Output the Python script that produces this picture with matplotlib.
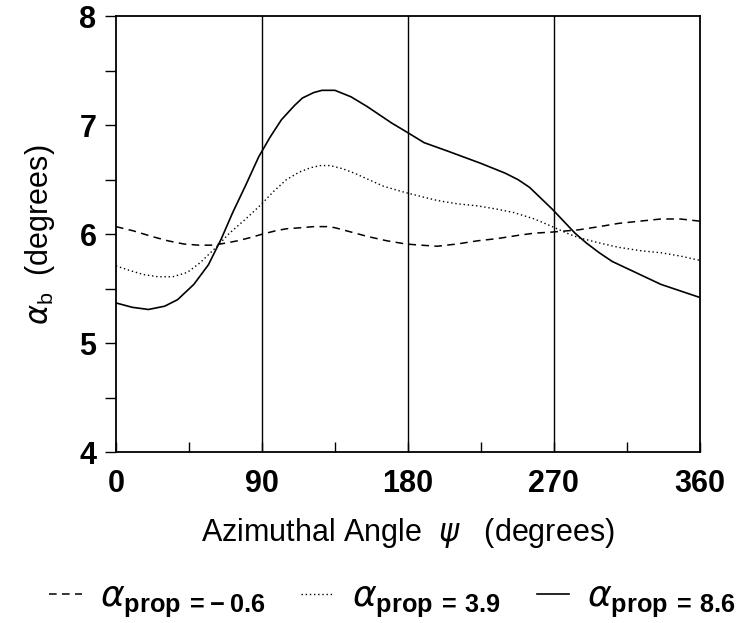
import numpy as np
import matplotlib
matplotlib.use("Agg")
import matplotlib.pyplot as plt

# -------------------------------------------------------------
# DATA
# -------------------------------------------------------------
psi_solid = [0, 10, 20, 30, 38, 48, 57, 65, 72, 80, 88, 95, 102, 110, 115, 122, 127,
             135, 145, 155, 162, 170, 179, 190, 205, 225, 240, 248, 255, 262, 269,
             276, 283, 290, 298, 306, 316, 326, 336, 348, 360]
alpha_solid = [5.37, 5.33, 5.31, 5.34, 5.40, 5.54, 5.72, 5.96, 6.20, 6.45, 6.71, 6.89,
               7.05, 7.18, 7.25, 7.30, 7.32, 7.32, 7.26, 7.17, 7.10, 7.02, 6.94, 6.84,
               6.76, 6.65, 6.56, 6.50, 6.43, 6.33, 6.23, 6.12, 6.01, 5.92, 5.83, 5.75,
               5.68, 5.61, 5.54, 5.48, 5.42]

psi_dotted = [0, 8, 17, 26, 35, 44, 52, 61, 70, 80, 88.6, 97, 105, 113, 120, 126, 132,
              140, 147, 156, 165, 179, 198, 210, 223, 235, 245, 258, 269, 278, 285,
              298, 310, 323, 336, 348, 360]
alpha_dotted = [5.71, 5.67, 5.63, 5.61, 5.61, 5.65, 5.74, 5.87, 6.01, 6.14, 6.26, 6.39,
                6.50, 6.57, 6.61, 6.63, 6.63, 6.60, 6.56, 6.50, 6.44, 6.38, 6.31, 6.28,
                6.26, 6.23, 6.20, 6.14, 6.07, 6.01, 5.97, 5.92, 5.88, 5.85, 5.83, 5.80,
                5.76]

psi_dashed = [0, 11, 22, 32, 42, 51, 60, 68, 75, 83, 90, 98, 105, 114, 122, 130, 135,
              145, 155, 167, 179, 188, 198, 210, 223, 235, 248, 258, 269, 285, 298,
              310, 323, 336, 348, 360]
alpha_dashed = [6.07, 6.03, 5.98, 5.94, 5.91, 5.90, 5.90, 5.92, 5.94, 5.97, 6.00, 6.03,
                6.05, 6.06, 6.07, 6.07, 6.06, 6.02, 5.98, 5.94, 5.91, 5.90, 5.89, 5.91,
                5.94, 5.96, 5.99, 6.01, 6.02, 6.04, 6.07, 6.10, 6.12, 6.14, 6.14, 6.12]

legend_labels = [r'$\alpha_{\mathbf{prop}\,\mathbf{=\!-0.6}}$',
                 r'$\alpha_{\mathbf{prop}\,\mathbf{=\,3.9}}$',
                 r'$\alpha_{\mathbf{prop}\,\mathbf{=\,8.6}}$']

x_major = [0, 90, 180, 270, 360]
x_minor = [45, 135, 225, 315]
grid_x = [90, 180, 270]

# -------------------------------------------------------------
# STYLE
# -------------------------------------------------------------
plt.rcParams['font.family'] = ['Liberation Sans', 'DejaVu Sans']
plt.rcParams['mathtext.fontset'] = 'custom'
plt.rcParams['mathtext.rm'] = 'Liberation Sans'
plt.rcParams['mathtext.bf'] = 'Liberation Sans:bold'
plt.rcParams['mathtext.sf'] = 'Liberation Sans'
plt.rcParams['mathtext.it'] = 'DejaVu Sans:italic'

fig = plt.figure(figsize=(7.41, 6.23), dpi=100)
ax = fig.add_axes([0.1565, 0.274, 0.788, 0.700])

l_dash, = ax.plot(psi_dashed, alpha_dashed, color='black', lw=1.1,
                  linestyle=(0, (5, 3.5)))
l_dot, = ax.plot(psi_dotted, alpha_dotted, color='black', lw=1.0,
                 linestyle=(0, (1, 2)))
l_solid, = ax.plot(psi_solid, alpha_solid, color='black', lw=1.2)

for gx in grid_x:
    ax.axvline(gx, color='black', lw=1.0)

ax.set_xlim(0, 360)
ax.set_ylim(4, 8)
for sp in ax.spines.values():
    sp.set_linewidth(1.3)

ax.set_xticks(x_major)
ax.set_xticks(x_minor, minor=True)
ax.set_yticks([4, 5, 6, 7, 8])
ax.set_yticks([4.5, 5.5, 6.5, 7.5], minor=True)
ax.tick_params(axis='x', which='both', direction='in', length=7, width=1.0,
               labelsize=22, pad=12)
ax.tick_params(axis='y', which='both', direction='out', length=8, width=1.0,
               labelsize=22, pad=6)
for lab in ax.get_xticklabels() + ax.get_yticklabels():
    lab.set_fontweight('bold')

ax.set_xlabel(r'Azimuthal Angle  $\psi$   (degrees)', fontsize=22, labelpad=12)
ax.set_ylabel(r'$\alpha_{\mathsf{b}}$  (degrees)', fontsize=22, labelpad=16)

leg_lines = [l_dash, l_dot, l_solid]
fig.legend(leg_lines, legend_labels, loc='lower center',
           bbox_to_anchor=(0.53, 0.0), ncol=3, frameon=False, fontsize=26,
           handlelength=0.9, columnspacing=1.0, handletextpad=0.5,
           borderpad=0.0, borderaxespad=0.1)

fig.savefig('out.png', dpi=100)
